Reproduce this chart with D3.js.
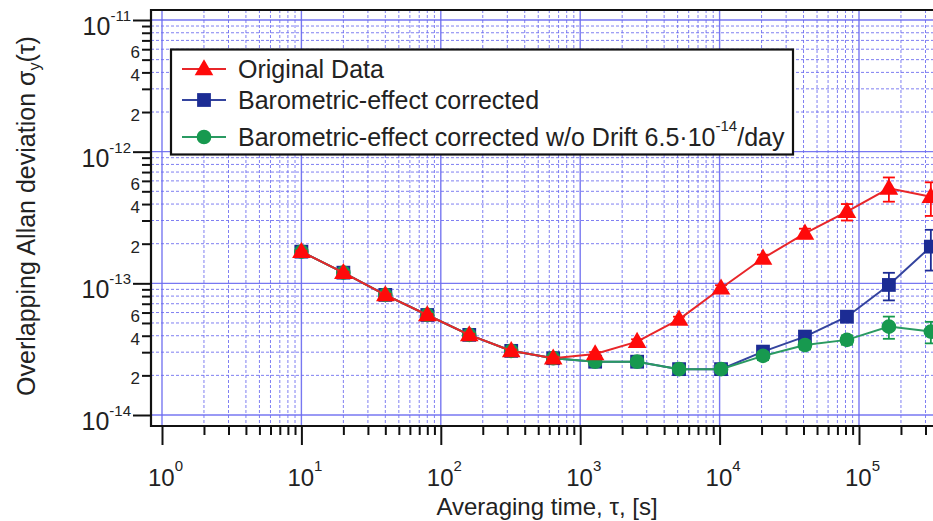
<!DOCTYPE html>
<html>
<head>
<meta charset="utf-8">
<script src="https://cdn.jsdelivr.net/npm/d3@7"></script>
<style>
    body { margin: 0; background: #fff; }
    svg { display: block; font-family: "Liberation Sans", Arial, sans-serif; }
</style>
</head>
<body>
<svg width="933" height="521"></svg>
<script>
// averaging times (s)
const tau = [10, 20, 40, 80, 160, 320, 640, 1280, 2560, 5120, 10240, 20480, 40960, 81920, 163840, 327680]

const originalData = [17.4e-14, 12.05e-14, 8.17e-14, 5.75e-14, 4.06e-14, 3.07e-14, 2.70e-14, 2.91e-14,
    3.61e-14, 5.33e-14, 9.18e-14, 15.5e-14, 24.0e-14, 35.0e-14, 52.7e-14, 45.5e-14]
const originalErr = [0.3e-14, 0.2e-14, 0.15e-14, 0.1e-14, 0.08e-14, 0.07e-14, 0.07e-14, 0.1e-14,
    0.15e-14, 0.25e-14, 0.5e-14, 1.0e-14, 2.0e-14, 5.0e-14, 11e-14, 13e-14]

const baroCorrected = [17.4e-14, 12.05e-14, 8.17e-14, 5.75e-14, 4.06e-14, 3.07e-14, 2.70e-14, 2.54e-14,
    2.54e-14, 2.23e-14, 2.23e-14, 3.03e-14, 3.94e-14, 5.58e-14, 9.72e-14, 19.0e-14]
const baroErr = [0.3e-14, 0.2e-14, 0.15e-14, 0.1e-14, 0.08e-14, 0.07e-14, 0.07e-14, 0.08e-14,
    0.1e-14, 0.12e-14, 0.15e-14, 0.2e-14, 0.3e-14, 0.5e-14, 2.3e-14, 6.5e-14]

const baroNoDrift = [17.4e-14, 12.05e-14, 8.17e-14, 5.75e-14, 4.06e-14, 3.07e-14, 2.70e-14, 2.54e-14,
    2.54e-14, 2.23e-14, 2.23e-14, 2.81e-14, 3.40e-14, 3.72e-14, 4.69e-14, 4.30e-14]
const noDriftErr = [0.3e-14, 0.2e-14, 0.15e-14, 0.1e-14, 0.08e-14, 0.07e-14, 0.07e-14, 0.08e-14,
    0.1e-14, 0.12e-14, 0.15e-14, 0.2e-14, 0.25e-14, 0.3e-14, 0.9e-14, 0.8e-14]

const xDecades = [0, 1, 2, 3, 4, 5]
const yDecades = [-14, -13, -12, -11]
const yMinorLabels = [2, 4, 6]

const
    width = 933,
    height = 521,
    frame = { left: 151, top: 10, bottom: 426, right: 960 }

const x = d3.scaleLog().domain([1, 1e5]).range([162, 859])
const y = d3.scaleLog().domain([1e-14, 1e-11]).range([415, 20])

const gridBlue = "#6a6af0"

// 1..9 x 10^k values inside the frame
const xVals = []
xDecades.forEach(k => d3.range(1, 10).forEach(m => {
    const v = m * Math.pow(10, k)
    if (x(v) < width + 5) xVals.push({ v, major: m === 1 })
}))
const yVals = []
yDecades.forEach(k => d3.range(1, 10).forEach(m => {
    if (k === -11 && m > 1) return
    yVals.push({ v: m * Math.pow(10, k), m, major: m === 1 })
}))

const series = [
    { name: "Barometric-effect corrected", values: baroCorrected, err: baroErr, color: "#1c2c94", line: "#34449e", shape: "square" },
    { name: "Barometric-effect corrected w/o Drift", values: baroNoDrift, err: noDriftErr, color: "#17994f", line: "#2a9a62", shape: "circle" },
    { name: "Original Data", values: originalData, err: originalErr, color: "#ff0a0a", line: "#e8262a", shape: "triangle" }
]

const svg = d3.select("svg").attr("viewBox", [0, 0, width, height])

// grid
const grid = svg.append("g").attr("class", "grid")
grid.selectAll("line.gx")
    .data(xVals)
    .join("line")
    .attr("class", "gx")
    .attr("x1", d => x(d.v)).attr("x2", d => x(d.v))
    .attr("y1", frame.top).attr("y2", frame.bottom)
grid.selectAll("line.gy")
    .data(yVals)
    .join("line")
    .attr("class", "gy")
    .attr("x1", frame.left).attr("x2", frame.right)
    .attr("y1", d => y(d.v)).attr("y2", d => y(d.v))
grid.selectAll("line")
    .attr("stroke", gridBlue)
    .attr("stroke-width", d => d.major ? 1.4 : 1)
    .attr("stroke-dasharray", d => d.major ? null : "3,2")
    .attr("opacity", d => d.major ? 0.9 : 0.85)

// series
const symbol = {
    square: d3.symbol(d3.symbolSquare, 190),
    circle: d3.symbol(d3.symbolCircle, 170),
    triangle: d3.symbol(d3.symbolTriangle, 150)
}

series.forEach(s => {
    const pts = tau.map((t, i) => ({ t, v: s.values[i], e: s.err[i] }))
    const g = svg.append("g")

    // error bars
    g.append("g")
        .attr("stroke", s.color)
        .attr("stroke-width", 1.8)
        .selectAll("g")
        .data(pts)
        .join("g")
        .each(function (d) {
            const sel = d3.select(this), cx = x(d.t)
            const top = y(d.v + d.e), bot = y(d.v - d.e)
            sel.append("line").attr("x1", cx).attr("x2", cx).attr("y1", top).attr("y2", bot)
            sel.append("line").attr("x1", cx - 6).attr("x2", cx + 6).attr("y1", top).attr("y2", top)
            sel.append("line").attr("x1", cx - 6).attr("x2", cx + 6).attr("y1", bot).attr("y2", bot)
        })

    g.append("path")
        .datum(pts)
        .attr("fill", "none")
        .attr("stroke", s.line)
        .attr("stroke-width", 2)
        .attr("d", d3.line().x(d => x(d.t)).y(d => y(d.v)))

    g.selectAll("path.mark")
        .data(pts)
        .join("path")
        .attr("class", "mark")
        .attr("fill", s.color)
        .attr("transform", d => `translate(${x(d.t)},${y(d.v) + (s.shape === "triangle" ? 1 : 0)})`)
        .attr("d", symbol[s.shape])
})

// frame
svg.append("g")
    .attr("stroke", "#111")
    .attr("stroke-width", 2.2)
    .attr("fill", "none")
    .append("path")
    .attr("d", `M${frame.right},${frame.top}H${frame.left}V${frame.bottom}H${frame.right}`)

// axes
const xAxis = g => g
    .attr("transform", `translate(0,${frame.bottom})`)
    .call(d3.axisBottom(x).tickValues(xVals.map(d => d.v)).tickFormat("").tickSizeOuter(0))
    .call(g => g.select(".domain").remove())
    .call(g => g.selectAll(".tick line")
        .attr("y2", (d, i) => xVals[i].major ? 19 : 9)
        .attr("stroke", "#111").attr("stroke-width", 2))

const yAxis = g => g
    .attr("transform", `translate(${frame.left},0)`)
    .call(d3.axisLeft(y).tickValues(yVals.map(d => d.v)).tickFormat("").tickSizeOuter(0))
    .call(g => g.select(".domain").remove())
    .call(g => g.selectAll(".tick line")
        .attr("x2", (d, i) => yVals[i].major ? -18 : -9)
        .attr("stroke", "#111").attr("stroke-width", 2))

svg.append("g").call(xAxis)
svg.append("g").call(yAxis)

// decade labels
const xLab = svg.append("g").attr("fill", "#222")
    .selectAll("text")
    .data(xDecades)
    .join("text")
    .attr("x", d => x(Math.pow(10, d)) - 14)
    .attr("y", 486)
xLab.append("tspan").attr("font-size", 24).text("10")
xLab.append("tspan").attr("font-size", 15).attr("dy", -15).text(d => d)

const yLab = svg.append("g").attr("fill", "#222")
    .selectAll("text")
    .data(yDecades)
    .join("text")
    .attr("text-anchor", "end")
    .attr("x", 131)
    .attr("y", d => y(Math.pow(10, d)) + 15)
yLab.append("tspan").attr("font-size", 25).text("10")
yLab.append("tspan").attr("font-size", 15).attr("dy", -14).text(d => d)

svg.append("g").attr("fill", "#222")
    .selectAll("text")
    .data(yDecades.slice(0, 3).flatMap(k => yMinorLabels.map(m => ({ m, v: m * Math.pow(10, k) }))))
    .join("text")
    .attr("text-anchor", "end")
    .attr("font-size", 17)
    .attr("x", 140)
    .attr("y", d => y(d.v) + 9)
    .text(d => d.m)

// axis titles
svg.append("text")
    .attr("x", 547).attr("y", 515)
    .attr("text-anchor", "middle")
    .attr("font-size", 24)
    .attr("fill", "#222")
    .text("Averaging time, τ, [s]")

const yTitle = svg.append("text")
    .attr("transform", "translate(35,216) rotate(-90)")
    .attr("text-anchor", "middle")
    .attr("font-size", 25)
    .attr("fill", "#222")
yTitle.append("tspan").text("Overlapping Allan deviation σ")
yTitle.append("tspan").attr("font-size", 16).attr("dy", 5).text("y")
yTitle.append("tspan").attr("dy", -5).text("(τ)")

// legend
const legend = svg.append("g")
legend.append("rect")
    .attr("x", 171).attr("y", 49.5)
    .attr("width", 622).attr("height", 105)
    .attr("fill", "#fff").attr("stroke", "#111").attr("stroke-width", 2.2)

const legendRows = [
    { s: series[2], y: 69, label: ["Original Data"] },
    { s: series[0], y: 100, label: ["Barometric-effect corrected"] },
    { s: series[1], y: 137, label: ["Barometric-effect corrected w/o Drift 6.5·10", "-14", "/day"] }
]
legendRows.forEach(r => {
    legend.append("line")
        .attr("x1", 182).attr("x2", 226).attr("y1", r.y).attr("y2", r.y)
        .attr("stroke", r.s.line).attr("stroke-width", 2)
    legend.append("path")
        .attr("transform", `translate(204,${r.y + (r.s.shape === "triangle" ? 1 : 0)})`)
        .attr("fill", r.s.color)
        .attr("d", symbol[r.s.shape])
    const t = legend.append("text")
        .attr("x", 238).attr("y", r.y + 8.5)
        .attr("font-size", 25).attr("fill", "#222")
    t.append("tspan").text(r.label[0])
    if (r.label.length > 1) {
        t.append("tspan").attr("font-size", 15).attr("dy", -15).text(r.label[1])
        t.append("tspan").attr("dy", 15).text(r.label[2])
    }
})
</script>
</body>
</html>
